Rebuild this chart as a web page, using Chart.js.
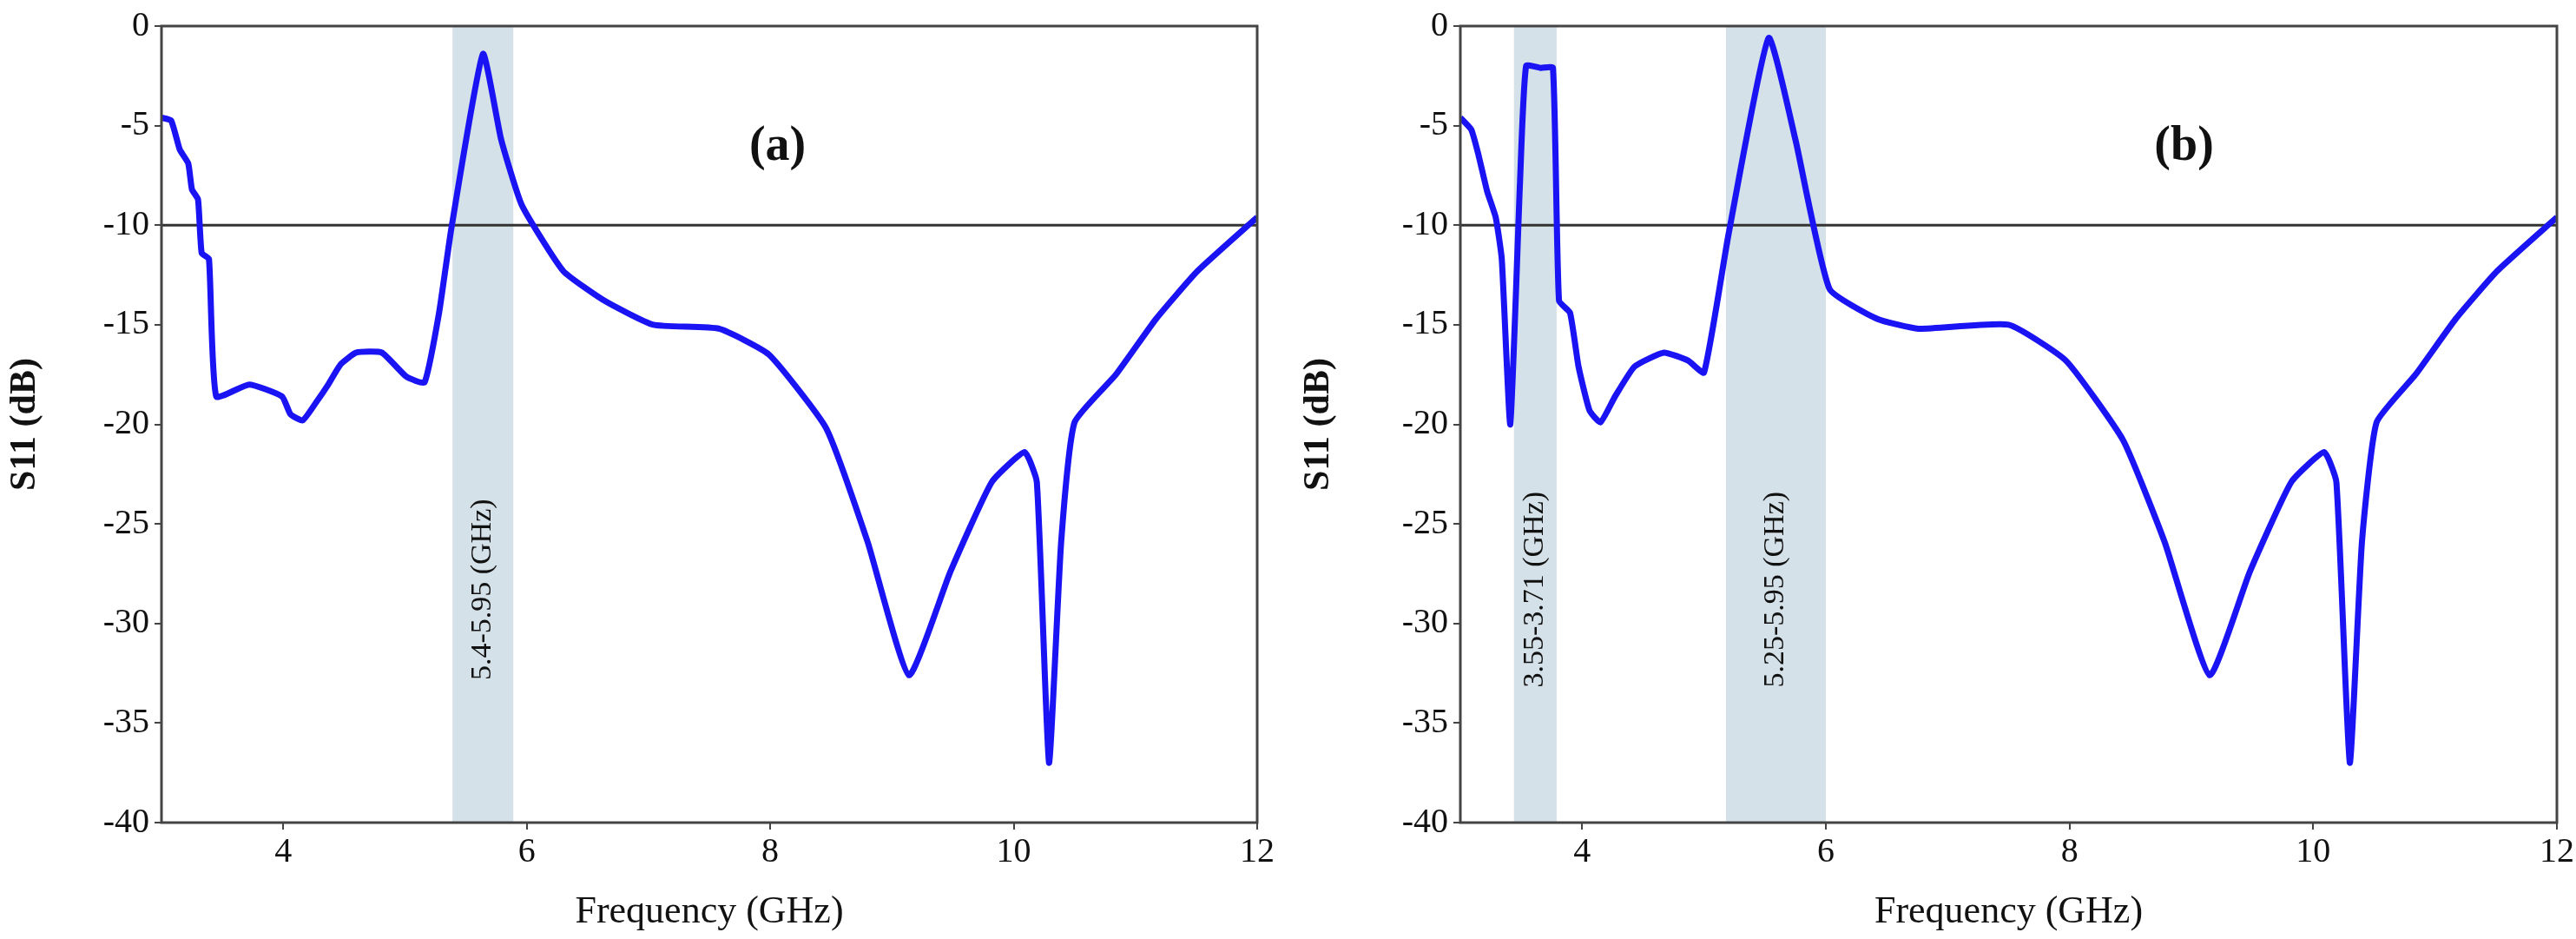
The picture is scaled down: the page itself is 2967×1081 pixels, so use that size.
<!DOCTYPE html>
<html><head><meta charset="utf-8">
<script src="https://cdn.jsdelivr.net/npm/chart.js@4"></script>
<style>
body{margin:0;background:#fff;width:2967px;height:1081px;overflow:hidden}
.box{position:absolute;top:0;height:1081px}
</style></head>
<body>
<div class="box" style="left:0;width:1470px"><canvas id="ca"></canvas></div>
<div class="box" style="left:1490px;width:1477px"><canvas id="cb"></canvas></div>
<script>
// panel (a) curve
const freqA = [3.0,3.08,3.15,3.22,3.25,3.3,3.33,3.39,3.45,3.72,3.99,4.06,4.16,4.27,4.37,4.47,4.6,4.81,5.01,5.16,5.28,5.38,5.64,5.79,5.96,6.3,6.64,7.04,7.58,7.99,8.46,8.8,9.14,9.48,9.82,10.09,10.19,10.29,10.39,10.5,10.84,11.17,11.51,12.0];
const s11A = [-4.6,-4.75,-6.2,-6.9,-8.2,-8.7,-11.4,-11.7,-18.6,-18.0,-18.6,-19.5,-19.8,-18.9,-18,-17,-16.4,-16.4,-17.6,-17.9,-14.4,-10.2,-1.4,-5.7,-9,-12.3,-13.8,-15,-15.2,-16.5,-20.2,-25.9,-32.6,-27.4,-22.9,-21.4,-22.9,-37,-25.9,-19.9,-17.5,-14.7,-12.3,-9.6];
// panel (b) curve
const freqB = [3.0,3.09,3.15,3.22,3.29,3.34,3.41,3.49,3.54,3.66,3.76,3.81,3.9,3.97,4.06,4.15,4.27,4.43,4.67,4.87,5.0,5.2,5.53,5.75,6.03,6.42,6.76,7.5,7.97,8.44,8.78,9.15,9.48,9.82,10.09,10.19,10.3,10.4,10.52,10.84,11.17,11.51,12.0];
const s11B = [-4.6,-5.2,-6.5,-8.3,-9.6,-11.7,-20,-7.8,-2,-2.1,-2.1,-13.8,-14.4,-17.1,-19.3,-19.9,-18.6,-17.1,-16.4,-16.8,-17.4,-10.5,-0.6,-5.7,-13.2,-14.7,-15.2,-15,-16.8,-20.8,-25.9,-32.6,-27.4,-22.9,-21.4,-22.9,-37,-25.9,-19.9,-17.5,-14.7,-12.3,-9.6];
const xTicks = [4,6,8,10,12];
const bandsA = [[5.39,5.89,"5.4-5.95 (GHz)"]];
const bandsB = [[3.44,3.79,"3.55-3.71 (GHz)"],[5.18,6.0,"5.25-5.95 (GHz)"]];

const serif = "'Liberation Serif', 'DejaVu Serif', serif";

function make(id, xs, ys, bands, tag, yw){
  const deco = {
    id:'deco',
    beforeDatasetsDraw(c){
      const {ctx, chartArea:a, scales:{x,y}} = c;
      ctx.save();
      ctx.fillStyle = '#d5e1e8';
      bands.forEach(b => ctx.fillRect(x.getPixelForValue(b[0]), a.top, x.getPixelForValue(b[1])-x.getPixelForValue(b[0]), a.bottom-a.top));
      ctx.strokeStyle = '#333'; ctx.lineWidth = 3;
      const yy = y.getPixelForValue(-10);
      ctx.beginPath(); ctx.moveTo(a.left, yy); ctx.lineTo(a.right, yy); ctx.stroke();
      ctx.restore();
    },
    afterDraw(c){
      const {ctx, chartArea:a, scales:{x,y}} = c;
      ctx.save();
      ctx.strokeStyle = '#444'; ctx.lineWidth = 3;
      ctx.strokeRect(a.left, a.top, a.right-a.left, a.bottom-a.top);
      ctx.fillStyle = '#111';
      ctx.font = "34px " + serif;
      ctx.textAlign = 'center'; ctx.textBaseline = 'middle';
      bands.forEach(b => {
        ctx.save();
        ctx.translate(x.getPixelForValue((b[0]+b[1])/2), y.getPixelForValue(-28.3));
        ctx.rotate(-Math.PI/2);
        ctx.fillText(b[2], 0, 0);
        ctx.restore();
      });
      ctx.font = "bold 56px " + serif;
      ctx.fillText(tag[0], x.getPixelForValue(tag[1]), y.getPixelForValue(-6.1));
      ctx.restore();
    }
  };
  return new Chart(document.getElementById(id), {
    type:'line',
    data:{datasets:[{data: xs.map((v,i)=>({x:v, y:ys[i]})), borderColor:'#1a14f5', borderWidth:7, pointRadius:0, tension:0.15, fill:false}]},
    options:{
      responsive:true, maintainAspectRatio:false, animation:false,
      layout:{padding:{top:30, right:7, left:0, bottom:0}},
      plugins:{legend:{display:false}, tooltip:{enabled:false}},
      scales:{
        x:{type:'linear', min:3, max:12,
          afterBuildTicks(s){ s.ticks = xTicks.map(v=>({value:v})); },
          afterFit(s){ s.height = 134; },
          grid:{drawOnChartArea:false, tickLength:8, color:'#444', lineWidth:2},
          border:{display:false},
          ticks:{color:'#111', font:{family:serif, size:40}, padding:2},
          title:{display:true, text:'Frequency (GHz)', color:'#111', font:{family:serif, size:44}, padding:{top:-4}}},
        y:{min:-40, max:0,
          afterFit(s){ s.width = yw; },
          grid:{drawOnChartArea:false, tickLength:8, color:'#444', lineWidth:2},
          border:{display:false},
          ticks:{stepSize:5, color:'#111', font:{family:serif, size:40}, padding:6},
          title:{display:true, text:'S11 (dB)', color:'#111', font:{family:serif, size:42, weight:'bold'}, padding:{bottom:2}}}
      }
    },
    plugins:[deco]
  });
}
make('ca', freqA, s11A, bandsA, ['(a)', 8.06], 186);
make('cb', freqB, s11B, bandsB, ['(b)', 8.94], 192);
</script>
</body></html>
